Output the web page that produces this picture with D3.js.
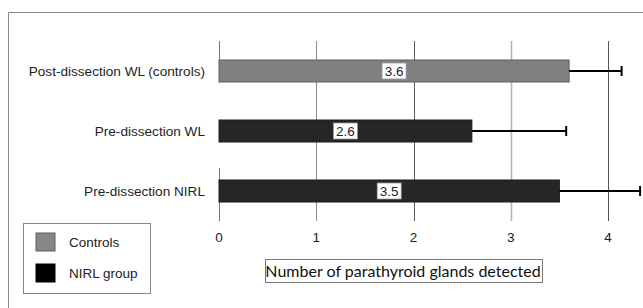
<!DOCTYPE html>
<html>
<head>
<meta charset="utf-8">
<script src="https://cdn.jsdelivr.net/npm/d3@7"></script>
<style>
  body { margin: 0; background: #fff; }
  svg { display: block; }
</style>
</head>
<body>
<div id="wrapper"></div>
<script>
// data
const categories = ["Post-dissection WL (controls)", "Pre-dissection WL", "Pre-dissection NIRL"];
const means = [3.6, 2.6, 3.5];
const errors = [0.54, 0.97, 0.83];
const groups = ["Controls", "NIRL group", "NIRL group"];
const legendLabels = ["Controls", "NIRL group"];
const xTicks = [0, 1, 2, 3, 4];
const axisTitle = "Number of parathyroid glands detected";

function drawChart() {
  const width = 643;
  const height = 308;

  const svg = d3
    .select("#wrapper")
    .append("svg")
    .attr("width", width)
    .attr("height", height);

  // outer frame (runs off the right and bottom edges)
  svg
    .append("path")
    .attr("d", `M8.5,${height + 5}V12.5H${width + 5}`)
    .attr("fill", "none")
    .attr("stroke", "#8a8a8a")
    .attr("stroke-width", 1);

  const x = d3.scaleLinear().domain([0, 4]).range([219, 608]);
  const y = d3.scaleBand().domain(categories).range([41, 221]).padding(0);
  const barH = 22;
  const barY = (d) => y(d) + (y.bandwidth() - barH) / 2;

  const fillScale = d3.scaleOrdinal().domain(legendLabels).range(["#808080", "#262626"]);
  const strokeScale = d3.scaleOrdinal().domain(legendLabels).range(["#5e5e5e", "#1a1a1a"]);

  // grid lines
  const gridColor = ["#777", "#8c8c8c", "#5a5a5a", "#b4b4b4", "#555"];
  const gridWidth = [1, 1, 1, 1.6, 1];
  const grid = svg.append("g");
  xTicks
    .filter((d) => d !== 0)
    .forEach((d) => {
      grid
        .append("line")
        .attr("x1", Math.round(x(d)) + 0.5)
        .attr("x2", Math.round(x(d)) + 0.5)
        .attr("y1", 41)
        .attr("y2", 221)
        .attr("stroke", gridColor[d])
        .attr("stroke-width", gridWidth[d]);
    });

  // zero line, drawn in pieces as in the original
  const zx = Math.round(x(0)) + 0.5;
  [
    [41, barY(categories[0])],
    [barY(categories[2]) - 12, 221],
  ].forEach(([a, b]) => {
    grid
      .append("line")
      .attr("x1", zx)
      .attr("x2", zx)
      .attr("y1", a)
      .attr("y2", b)
      .attr("stroke", "#777");
  });

  // bars
  const bars = svg
    .append("g")
    .selectAll("g")
    .data(categories)
    .join("g");

  bars
    .append("rect")
    .attr("x", x(0))
    .attr("y", (d) => barY(d))
    .attr("width", (d, i) => x(means[i]) - x(0))
    .attr("height", barH)
    .attr("fill", (d, i) => fillScale(groups[i]))
    .attr("stroke", (d, i) => strokeScale(groups[i]))
    .attr("stroke-width", 1);

  // error bars
  bars
    .append("line")
    .attr("x1", (d, i) => x(means[i]))
    .attr("x2", (d, i) => x(means[i] + errors[i]))
    .attr("y1", (d) => barY(d) + barH / 2)
    .attr("y2", (d) => barY(d) + barH / 2)
    .attr("stroke", "#000")
    .attr("stroke-width", 2);

  bars
    .append("line")
    .attr("x1", (d, i) => x(means[i] + errors[i]))
    .attr("x2", (d, i) => x(means[i] + errors[i]))
    .attr("y1", (d) => barY(d) + barH / 2 - 5)
    .attr("y2", (d) => barY(d) + barH / 2 + 5)
    .attr("stroke", "#000")
    .attr("stroke-width", 2);

  // value labels
  bars
    .append("rect")
    .attr("x", (d, i) => (x(0) + x(means[i])) / 2 - 12)
    .attr("y", (d) => barY(d) + barH / 2 - 8)
    .attr("width", 24)
    .attr("height", 16)
    .attr("fill", "#fff")
    .attr("stroke", "#999")
    .attr("stroke-width", 0.8);

  bars
    .append("text")
    .attr("x", (d, i) => (x(0) + x(means[i])) / 2)
    .attr("y", (d) => barY(d) + barH / 2)
    .attr("dy", "0.36em")
    .attr("text-anchor", "middle")
    .style("font-family", "Liberation Sans, Arial, sans-serif")
    .style("font-size", "13.5px")
    .attr("fill", "#222")
    .text((d, i) => means[i].toFixed(1));

  // category labels
  svg
    .append("g")
    .selectAll("text")
    .data(categories)
    .join("text")
    .attr("x", 205)
    .attr("y", (d) => barY(d) + barH / 2)
    .attr("dy", "0.36em")
    .attr("text-anchor", "end")
    .style("font-family", "Liberation Sans, Arial, sans-serif")
    .style("font-size", "13.6px")
    .attr("fill", "#1e1e1e")
    .text((d) => d);

  // x tick labels
  svg
    .append("g")
    .selectAll("text")
    .data(xTicks)
    .join("text")
    .attr("x", (d) => x(d))
    .attr("y", 237)
    .attr("dy", "0.36em")
    .attr("text-anchor", "middle")
    .style("font-family", "Liberation Sans, Arial, sans-serif")
    .style("font-size", "13.5px")
    .attr("fill", "#222")
    .text((d) => d);

  // axis title in a box
  svg
    .append("rect")
    .attr("x", 265.5)
    .attr("y", 259.5)
    .attr("width", 277)
    .attr("height", 23)
    .attr("fill", "#fff")
    .attr("stroke", "#777");

  svg
    .append("text")
    .attr("x", 403)
    .attr("y", 271)
    .attr("dy", "0.36em")
    .attr("text-anchor", "middle")
    .style("font-family", "Lato, sans-serif")
    .style("font-size", "16px")
    .attr("fill", "#111")
    .text(axisTitle);

  // legend
  const legend = svg.append("g");
  legend
    .append("rect")
    .attr("x", 23.5)
    .attr("y", 223.5)
    .attr("width", 127)
    .attr("height", 70)
    .attr("fill", "#fff")
    .attr("stroke", "#888");

  const legendFill = ["#878787", "#000"];
  legendLabels.forEach((label, i) => {
    const cy = 242 + i * 31;
    legend
      .append("rect")
      .attr("x", 36)
      .attr("y", cy - 9)
      .attr("width", 19)
      .attr("height", 18)
      .attr("fill", legendFill[i])
      .attr("stroke", i === 0 ? "#5e5e5e" : "#000");
    legend
      .append("text")
      .attr("x", 69)
      .attr("y", cy)
      .attr("dy", "0.36em")
      .style("font-family", "Liberation Sans, Arial, sans-serif")
      .style("font-size", "13.5px")
      .attr("fill", "#222")
      .text(label);
  });
}
drawChart();
</script>
</body>
</html>
